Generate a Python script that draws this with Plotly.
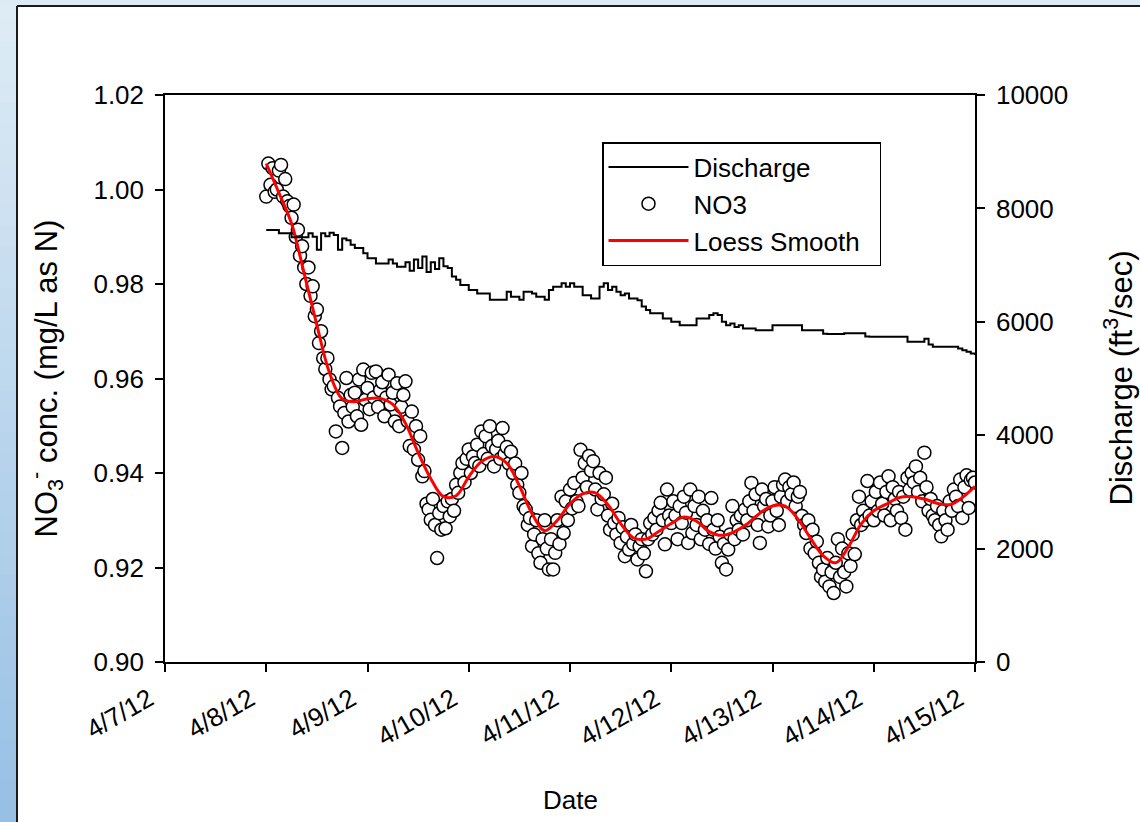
import pandas as pd
import plotly.graph_objects as go

# ---------------- data ----------------
x_tick_labels = ["4/7/12", "4/8/12", "4/9/12", "4/10/12", "4/11/12", "4/12/12", "4/13/12", "4/14/12", "4/15/12"]
x_tick_dates = ["2012-04-07", "2012-04-08", "2012-04-09", "2012-04-10", "2012-04-11",
                "2012-04-12", "2012-04-13", "2012-04-14", "2012-04-15"]

# NO3 concentration (mg/L as N), half-hourly from 2012-04-08 00:00
no3_day1 = [0.9985, 1.0055, 1.0010, 1.0045, 0.9995, 1.0000, 1.0040, 1.0052, 0.9985, 1.0022,
            0.9975, 0.9965, 0.9940, 0.9968, 0.9900, 0.9915, 0.9860, 0.9880, 0.9835, 0.9800,
            0.9835, 0.9775, 0.9795, 0.9732, 0.9746, 0.9675, 0.9700, 0.9643, 0.9620, 0.9643,
            0.9598, 0.9577, 0.9584, 0.9488, 0.9559, 0.9541, 0.9453, 0.9527, 0.9601, 0.9509,
            0.9565, 0.9540, 0.9570, 0.9520, 0.9598, 0.9502, 0.9619, 0.9555]
no3_day2 = [0.9580, 0.9535, 0.9612, 0.9560, 0.9615, 0.9540, 0.9575, 0.9592, 0.9520, 0.9560,
            0.9608, 0.9545, 0.9570, 0.9509, 0.9590, 0.9499, 0.9540, 0.9565, 0.9594, 0.9510,
            0.9457, 0.9530, 0.9450, 0.9499, 0.9428, 0.9478, 0.9393, 0.9404, 0.9335, 0.9323,
            0.9301, 0.9345, 0.9290, 0.9220, 0.9315, 0.9280, 0.9330, 0.9283, 0.9340, 0.9308,
            0.9345, 0.9320, 0.9375, 0.9358, 0.9400, 0.9421, 0.9380, 0.9430]
no3_day3 = [0.9450, 0.9400, 0.9435, 0.9421, 0.9460, 0.9415, 0.9488, 0.9440, 0.9478, 0.9430,
            0.9499, 0.9457, 0.9414, 0.9450, 0.9468, 0.9430, 0.9495, 0.9440, 0.9455, 0.9420,
            0.9445, 0.9400, 0.9420, 0.9375, 0.9358, 0.9400, 0.9330, 0.9323, 0.9290, 0.9305,
            0.9245, 0.9270, 0.9300, 0.9230, 0.9210, 0.9260, 0.9300, 0.9240, 0.9196, 0.9260,
            0.9196, 0.9231, 0.9300, 0.9250, 0.9350, 0.9273, 0.9340, 0.9300]
no3_day4 = [0.9365, 0.9325, 0.9379, 0.9340, 0.9330, 0.9449, 0.9390, 0.9421, 0.9370, 0.9436,
            0.9405, 0.9425, 0.9365, 0.9323, 0.9400, 0.9345, 0.9355, 0.9390, 0.9310, 0.9280,
            0.9335, 0.9294, 0.9270, 0.9305, 0.9252, 0.9285, 0.9224, 0.9265, 0.9238, 0.9290,
            0.9250, 0.9270, 0.9217, 0.9245, 0.9260, 0.9230, 0.9192, 0.9260, 0.9294, 0.9270,
            0.9305, 0.9280, 0.9320, 0.9337, 0.9300, 0.9249, 0.9365, 0.9310]
no3_day5 = [0.9294, 0.9340, 0.9310, 0.9260, 0.9330, 0.9294, 0.9350, 0.9316, 0.9252, 0.9365,
            0.9273, 0.9330, 0.9290, 0.9350, 0.9260, 0.9320, 0.9280, 0.9300, 0.9250, 0.9347,
            0.9280, 0.9240, 0.9300, 0.9265, 0.9210, 0.9250, 0.9196, 0.9238, 0.9270, 0.9330,
            0.9260, 0.9300, 0.9280, 0.9310, 0.9270, 0.9323, 0.9300, 0.9340, 0.9379, 0.9320,
            0.9355, 0.9290, 0.9252, 0.9365, 0.9330, 0.9345, 0.9287, 0.9310]
no3_day6 = [0.9340, 0.9370, 0.9320, 0.9290, 0.9350, 0.9375, 0.9386, 0.9340, 0.9370, 0.9355,
            0.9380, 0.9330, 0.9350, 0.9360, 0.9309, 0.9290, 0.9273, 0.9300, 0.9240, 0.9280,
            0.9230, 0.9255, 0.9210, 0.9180, 0.9196, 0.9170, 0.9220, 0.9160, 0.9190, 0.9146,
            0.9210, 0.9260, 0.9180, 0.9240, 0.9190, 0.9160, 0.9230, 0.9203, 0.9270, 0.9228,
            0.9300, 0.9350, 0.9290, 0.9320, 0.9300, 0.9383, 0.9310, 0.9340]
no3_day7 = [0.9300, 0.9360, 0.9320, 0.9380, 0.9335, 0.9310, 0.9360, 0.9393, 0.9300, 0.9370,
            0.9345, 0.9320, 0.9360, 0.9305, 0.9350, 0.9280, 0.9390, 0.9365, 0.9400, 0.9380,
            0.9414, 0.9360, 0.9390, 0.9340, 0.9443, 0.9370, 0.9320, 0.9345, 0.9310, 0.9300,
            0.9330, 0.9290, 0.9266, 0.9320, 0.9300, 0.9280, 0.9340, 0.9320, 0.9365, 0.9350,
            0.9330, 0.9386, 0.9305, 0.9370, 0.9395, 0.9326, 0.9385, 0.9390, 0.9380]

# Loess smooth, every 3 hours from 2012-04-08 00:00
loess = [1.0055, 0.9993, 0.9928, 0.9822, 0.9713, 0.9612, 0.9557, 0.9551, 0.9557, 0.9558,
         0.9545, 0.9505, 0.9443, 0.9388, 0.9350, 0.9352, 0.9392, 0.9424, 0.9435, 0.9421,
         0.9373, 0.9314, 0.9278, 0.9300, 0.9335, 0.9356, 0.9358, 0.9333, 0.9293, 0.9263,
         0.9260, 0.9276, 0.9293, 0.9307, 0.9298, 0.9276, 0.9268, 0.9276, 0.9292, 0.9315,
         0.9330, 0.9330, 0.9303, 0.9262, 0.9225, 0.9210, 0.9244, 0.9292, 0.9320, 0.9334,
         0.9348, 0.9350, 0.9345, 0.9336, 0.9333, 0.9348, 0.9372]

# Discharge (ft3/sec), hourly from 2012-04-08 00:00
discharge = [7620, 7620, 7620, 7560, 7560, 7560, 7490, 7490, 7490, 7490,
             7560, 7500, 7270, 7560, 7510, 7570, 7530, 7270, 7470, 7440,
             7360, 7300, 7300, 7210, 7120, 7120, 7030, 7030, 7030, 7100,
             7030, 6970, 6970, 7050, 6900, 7100, 6950, 7150, 6880, 7050,
             6930, 7120, 6980, 6950, 6800, 6740, 6650, 6650, 6560, 6560,
             6500, 6500, 6500, 6390, 6390, 6390, 6390, 6530, 6440, 6440,
             6390, 6530, 6530, 6500, 6440, 6440, 6390, 6560, 6620, 6620,
             6680, 6620, 6680, 6620, 6620, 6470, 6470, 6410, 6410, 6620,
             6680, 6560, 6620, 6530, 6470, 6500, 6410, 6410, 6380, 6270,
             6210, 6150, 6150, 6150, 6060, 6060, 6000, 6000, 5940, 5940,
             5940, 5940, 6060, 6060, 6060, 6120, 6150, 6120, 6000, 5940,
             5970, 5910, 5940, 5880, 5880, 5880, 5850, 5850, 5850, 5850,
             5940, 5940, 5940, 5940, 5940, 5940, 5940, 5850, 5850, 5850,
             5850, 5850, 5790, 5785, 5785, 5785, 5785, 5797, 5797, 5797,
             5797, 5800, 5740, 5738, 5738, 5738, 5738, 5738, 5738, 5738,
             5738, 5738, 5650, 5650, 5650, 5650, 5700, 5600, 5560, 5560,
             5560, 5560, 5560, 5560, 5530, 5500, 5470, 5440, 5415]

no3 = no3_day1 + no3_day2 + no3_day3 + no3_day4 + no3_day5 + no3_day6 + no3_day7
no3_times = pd.date_range("2012-04-08 00:00", periods=len(no3), freq="30min")
loess_times = pd.date_range("2012-04-08 00:00", periods=len(loess), freq="3h")
q_times = pd.date_range("2012-04-08 00:00", periods=len(discharge), freq="h")

# ---------------- layout geometry ----------------
W, H = 1140, 822
L, R, T, B = 165, 975, 95, 662
PW, PH = R - L, B - T


def px2x(px):
    return (px - L) / PW


def py2y(py):
    return (B - py) / PH


FONT = "Liberation Sans, Arial, Helvetica, sans-serif"

fig = go.Figure()
fig.add_trace(go.Scatter(x=q_times, y=discharge, name="Discharge", mode="lines",
                         line=dict(color="black", width=2, shape="hv"), yaxis="y2"))
fig.add_trace(go.Scatter(x=no3_times, y=no3, name="NO3", mode="markers",
                         marker=dict(symbol="circle", size=13, color="white",
                                     line=dict(color="black", width=1.5))))
fig.add_trace(go.Scatter(x=loess_times, y=loess, name="Loess Smooth\u00a0\u00a0", mode="lines",
                         line=dict(color="#ff0000", width=3, shape="spline", smoothing=1.0)))

# frame: blue gradient strips on the left and top, black border
shapes = []
n_bands = 40
c_top = (222, 236, 245)
c_bot = (152, 192, 229)
for i in range(n_bands):
    f = i / (n_bands - 1)
    col = tuple(int(round(c_top[k] + (c_bot[k] - c_top[k]) * f)) for k in range(3))
    y0 = i * H / n_bands
    y1 = (i + 1) * H / n_bands + 1
    shapes.append(dict(type="rect", xref="paper", yref="paper", layer="below",
                       x0=px2x(0), x1=px2x(17), y0=py2y(y1), y1=py2y(y0),
                       fillcolor="rgb(%d,%d,%d)" % col, line=dict(width=0)))
shapes.append(dict(type="rect", xref="paper", yref="paper", layer="below",
                   x0=px2x(0), x1=px2x(W), y0=py2y(6), y1=py2y(0),
                   fillcolor="rgb(220,235,244)", line=dict(width=0)))
shapes.append(dict(type="line", xref="paper", yref="paper", layer="below",
                   x0=px2x(17), x1=px2x(17), y0=py2y(W), y1=py2y(6),
                   line=dict(color="#1a1a1a", width=2)))
shapes.append(dict(type="line", xref="paper", yref="paper", layer="below",
                   x0=px2x(17), x1=px2x(W + 5), y0=py2y(6), y1=py2y(6),
                   line=dict(color="#1a1a1a", width=2)))

axis_common = dict(showline=True, linecolor="black", linewidth=1.5, ticks="outside",
                   ticklen=8, tickwidth=1.5, tickcolor="black", showgrid=False,
                   zeroline=False, tickfont=dict(family=FONT, size=26, color="black"))

fig.update_layout(
    width=W, height=H,
    margin=dict(l=L, r=W - R, t=T, b=H - B, autoexpand=False),
    paper_bgcolor="white", plot_bgcolor="rgba(0,0,0,0)",
    font=dict(family=FONT, size=26, color="black"),
    xaxis=dict(type="date", range=[x_tick_dates[0], x_tick_dates[-1]],
               tickmode="array", tickvals=x_tick_dates, ticktext=x_tick_labels,
               tickangle=-30, mirror=True, ticklabelshift=-16, ticklabelstandoff=2,
               **axis_common),
    yaxis=dict(range=[0.90, 1.02], tickmode="linear", tick0=0.90, dtick=0.02,
               tickformat=".2f", ticklabelstandoff=6, **axis_common),
    yaxis2=dict(range=[0, 10000], tickmode="linear", tick0=0, dtick=2000,
                tickformat="d", overlaying="y", side="right", ticklabelstandoff=6,
                **axis_common),
    legend=dict(x=px2x(602), y=py2y(142), xanchor="left", yanchor="top",
                bgcolor="white", bordercolor="black", borderwidth=1.5,
                font=dict(family=FONT, size=26, color="black"),
                itemwidth=80, tracegroupgap=0),
    shapes=shapes,
    annotations=[
        dict(text="NO<sub>3</sub><sup>-</sup> conc. (mg/L as N)", xref="paper", yref="paper",
             x=px2x(46), y=0.5, xanchor="center", yanchor="middle", textangle=-90,
             showarrow=False, font=dict(family=FONT, size=31, color="black")),
        dict(text="Discharge (ft<sup>3</sup>/sec)", xref="paper", yref="paper",
             x=px2x(1118), y=0.5, xanchor="center", yanchor="middle", textangle=-90,
             showarrow=False, font=dict(family=FONT, size=31, color="black")),
        dict(text="Date", xref="paper", yref="paper",
             x=0.5, y=py2y(800), xanchor="center", yanchor="middle",
             showarrow=False, font=dict(family=FONT, size=26, color="black")),
    ],
)

fig.write_html("out.html", config={"displayModeBar": False},
               post_script="document.body.style.margin='0';document.body.style.padding='0';")
